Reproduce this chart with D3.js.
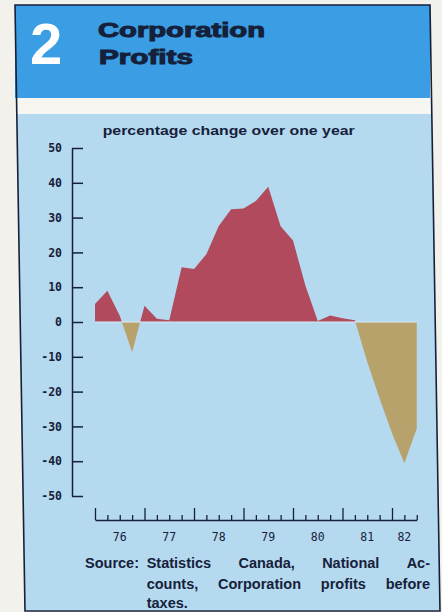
<!DOCTYPE html>
<html>
<head>
<meta charset="utf-8">
<script src="https://cdn.jsdelivr.net/npm/d3@7"></script>
<style>
  body { margin: 0; background: #f3f1eb; }
  svg { display: block; }
</style>
</head>
<body>
<div id="chart"></div>
<script>
// quarterly % change in corporation profits
var quarters = ["1976Q1","1976Q2","1976Q3","1976Q4",
                "1977Q1","1977Q2","1977Q3","1977Q4",
                "1978Q1","1978Q2","1978Q3","1978Q4",
                "1979Q1","1979Q2","1979Q3","1979Q4",
                "1980Q1","1980Q2","1980Q3","1980Q4",
                "1981Q1","1981Q2","1981Q3","1981Q4",
                "1982Q1","1982Q2","1982Q3"];
var profitChange = [5.2, 9.0, 1.8, -8.7,
                    4.7, 0.9, 0.5, 15.7,
                    15.2, 19.5, 27.6, 32.4,
                    32.6, 34.8, 38.9, 27.5,
                    23.4, 10.5, 0.3, 1.9,
                    1.1, 0.5, -11.5, -22,
                    -32, -40.6, -30.6];
var yTicks = [50, 40, 30, 20, 10, 0, -10, -20, -30, -40, -50];
var years = [1976, 1977, 1978, 1979, 1980, 1981, 1982];
var yearLabels = ["76", "77", "78", "79", "80", "81", "82"];
var axisEnd = 1982.5;

var navy = "#15213b";

var data = quarters.map(function(q, i) {
    var yr = +q.slice(0, 4), qn = +q.slice(5);
    return { t: yr + (qn - 1) / 4, v: profitChange[i] };
});

var svg = d3.select("#chart").append("svg")
    .attr("width", 442)
    .attr("height", 612);

// panel (the printed frame is slightly sheared)
svg.append("polygon")
    .attr("points", "15,5 430,5 440,611 25,611")
    .attr("fill", "#f7f6f1");
svg.append("polygon")
    .attr("points", "16.7,114 431.8,114 440,610 25,610")
    .attr("fill", "#b5d9ee");
svg.append("rect")
    .attr("x", 15).attr("y", 5)
    .attr("width", 415).attr("height", 93)
    .attr("fill", "#3b9de4");
svg.append("polygon")
    .attr("points", "15,5 430,5 440,611 25,611")
    .attr("fill", "none")
    .attr("stroke", navy)
    .attr("stroke-width", 1.6);

// header
svg.append("text")
    .attr("x", 30).attr("y", 63.5)
    .style("font-family", "Liberation Sans, Arial, sans-serif")
    .style("font-weight", "bold")
    .style("font-size", "58px")
    .attr("fill", "#ffffff")
    .text("2");
svg.append("text")
    .attr("x", 98).attr("y", 37)
    .attr("textLength", 167)
    .attr("lengthAdjust", "spacingAndGlyphs")
    .style("font-family", "Liberation Sans, Arial, sans-serif")
    .style("font-weight", "bold")
    .style("font-size", "19.5px")
    .attr("fill", navy)
    .attr("stroke", navy).attr("stroke-width", 1)
    .text("Corporation");
svg.append("text")
    .attr("x", 99).attr("y", 64)
    .attr("textLength", 94)
    .attr("lengthAdjust", "spacingAndGlyphs")
    .style("font-family", "Liberation Sans, Arial, sans-serif")
    .style("font-weight", "bold")
    .style("font-size", "19.5px")
    .attr("fill", navy)
    .attr("stroke", navy).attr("stroke-width", 1)
    .text("Profits");

var x = d3.scaleLinear().domain([1976, axisEnd]).range([95, 416.75]);
var y = d3.scaleLinear().domain([-50, 50]).range([496, 148]);

// chart title
svg.append("text")
    .attr("x", 102.7).attr("y", 135)
    .attr("textLength", 252)
    .attr("lengthAdjust", "spacingAndGlyphs")
    .style("font-family", "Liberation Sans, Arial, sans-serif")
    .style("font-weight", "bold")
    .style("font-size", "13.5px")
    .attr("fill", navy)
    .text("percentage change over one year");

// clip areas above / below zero
var defs = svg.append("defs");
defs.append("clipPath").attr("id", "above")
    .append("rect")
    .attr("x", 0).attr("y", 0)
    .attr("width", 442).attr("height", y(0));
defs.append("clipPath").attr("id", "below")
    .append("rect")
    .attr("x", 0).attr("y", y(0))
    .attr("width", 442).attr("height", 612 - y(0));

var area = d3.area()
    .x(function(d) { return x(d.t); })
    .y0(y(0))
    .y1(function(d) { return y(d.v); });

svg.append("path")
    .attr("d", area(data))
    .attr("clip-path", "url(#above)")
    .attr("fill", "#b04a5c");
svg.append("path")
    .attr("d", area(data))
    .attr("clip-path", "url(#below)")
    .attr("fill", "#b8a26c");

// zero line
svg.append("line")
    .attr("x1", x(data[0].t)).attr("x2", x(data[data.length - 1].t))
    .attr("y1", y(0)).attr("y2", y(0))
    .attr("stroke", "#d9ecf6")
    .attr("stroke-width", 1.2);

// y axis
var yAxis = svg.append("g")
    .attr("transform", "translate(72,0)")
    .call(d3.axisLeft(y)
        .tickValues(yTicks)
        .tickSize(-11)
        .tickSizeOuter(0)
        .tickPadding(10)
        .tickFormat(function(d) { return String(d); }));
yAxis.select(".domain").attr("stroke", navy).attr("stroke-width", 1.5);
yAxis.selectAll(".tick line").attr("stroke", navy).attr("stroke-width", 1.5);
yAxis.selectAll(".tick text")
    .attr("fill", navy)
    .style("font-family", "DejaVu Sans Mono, monospace")
    .style("font-weight", "bold")
    .style("font-size", "11.5px");

// x axis: year ticks, quarter ticks, labels
var xAxis = svg.append("g")
    .attr("transform", "translate(0,520)")
    .call(d3.axisBottom(x)
        .tickValues(years)
        .tickSize(-12)
        .tickSizeOuter(0)
        .tickFormat(""));
xAxis.select(".domain").attr("stroke", navy).attr("stroke-width", 1.5);
xAxis.selectAll(".tick line").attr("stroke", navy).attr("stroke-width", 1.3);

var quarterTicks = data.map(function(d) { return d.t; })
    .filter(function(t) { return t % 1 !== 0; });
var xMinor = svg.append("g")
    .attr("transform", "translate(0,520)")
    .call(d3.axisBottom(x)
        .tickValues(quarterTicks)
        .tickSize(-5)
        .tickFormat(""));
xMinor.select(".domain").remove();
xMinor.selectAll(".tick line").attr("stroke", navy).attr("stroke-width", 1.3);

svg.append("g").selectAll("text")
    .data(yearLabels)
    .enter().append("text")
    .attr("x", function(d, i) {
        var start = years[i], end = Math.min(start + 1, axisEnd);
        return x((start + end) / 2);
    })
    .attr("y", 541)
    .attr("text-anchor", "middle")
    .attr("fill", navy)
    .style("font-family", "DejaVu Sans Mono, monospace")
    .style("font-size", "11.5px")
    .text(function(d) { return d; });

// source note, justified like the print
var noteFont = function(sel) {
    sel.style("font-family", "Liberation Sans, Arial, sans-serif")
       .style("font-weight", "bold")
       .style("font-size", "14.5px")
       .attr("fill", navy);
};
svg.append("text").attr("x", 85).attr("y", 567.5).call(noteFont).text("Source:");

var noteLines = [
    { words: ["Statistics", "Canada,", "National", "Ac-"], y: 567.5, justify: true },
    { words: ["counts,", "Corporation", "profits", "before"], y: 589, justify: true },
    { words: ["taxes."], y: 607.5, justify: false }
];
var noteLeft = 146.7, noteRight = 430;
noteLines.forEach(function(line) {
    var g = svg.append("g");
    var nodes = line.words.map(function(w) {
        return g.append("text").attr("y", line.y).call(noteFont).text(w);
    });
    var widths = nodes.map(function(n) { return n.node().getComputedTextLength(); });
    var total = d3.sum(widths);
    var gap = line.justify ? (noteRight - noteLeft - total) / (nodes.length - 1) : 4;
    var cx = noteLeft;
    nodes.forEach(function(n, i) {
        n.attr("x", cx);
        cx += widths[i] + gap;
    });
});
</script>
</body>
</html>
